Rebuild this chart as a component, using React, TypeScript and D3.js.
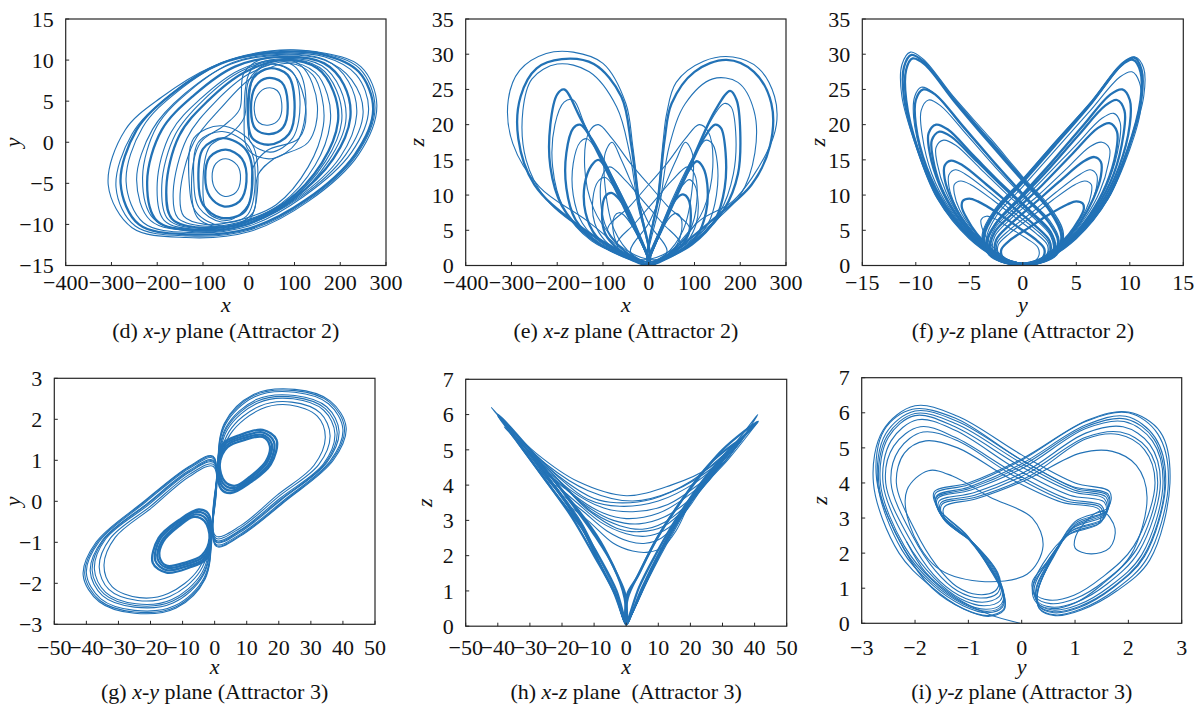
import * as d3 from "d3";

type Pt = [number, number];

const BLUE = "#2272b6";
const AXIS = "#262626";
const INK = "#111111";
const FONT = "'Liberation Serif', 'Times New Roman', serif";

// ---- tick values ----
const dXTicks = [-400, -300, -200, -100, 0, 100, 200, 300];
const dYTicks = [-15, -10, -5, 0, 5, 10, 15];
const eYTicks = [0, 5, 10, 15, 20, 25, 30, 35];
const fXTicks = [-15, -10, -5, 0, 5, 10, 15];
const gXTicks = [-50, -40, -30, -20, -10, 0, 10, 20, 30, 40, 50];
const gYTicks = [-3, -2, -1, 0, 1, 2, 3];
const hYTicks = [0, 1, 2, 3, 4, 5, 6, 7];
const iXTicks = [-3, -2, -1, 0, 1, 2, 3];

// ---- (d) x-y plane, attractor 2 : loops ----
const dThinLoops: Pt[][] = [
  [[-307, -5.2], [-270, 1.5], [-190, 5.5], [-80, 9.2], [40, 11], [150, 11], [245, 9.2], [280, 4.5], [240, -1.5], [130, -7.2], [0, -10.9], [-136, -11.6], [-255, -10.4]],
  [[-290, -5.5], [-255, 1], [-180, 5.4], [-70, 9.4], [45, 11.1], [155, 10.9], [242, 9], [276, 4.2], [236, -1.5], [128, -7.1], [0, -10.7], [-133, -11.4], [-248, -10.2]],
  [[-268, -4.8], [-232, 1.8], [-155, 6.2], [-50, 9.8], [60, 10.8], [165, 10.4], [235, 8.2], [262, 4], [225, -1.2], [120, -6.6], [0, -10.2], [-125, -11], [-230, -9.8]],
  [[-245, -4.6], [-210, 1.6], [-140, 5.9], [-40, 9.5], [70, 10.6], [165, 10], [225, 7.6], [250, 3.6], [212, -1.5], [110, -6.8], [-5, -10], [-120, -10.8], [-215, -9.5]],
  [[-232, -4.3], [-200, 2], [-130, 6.2], [-35, 9.7], [72, 10.7], [168, 10], [218, 7.4], [236, 3.4], [200, -1.8], [103, -6.9], [-8, -10.1], [-118, -10.9], [-208, -9.3]],
  [[-200, -5], [-170, 1.2], [-105, 5.3], [-20, 8.8], [80, 10.2], [160, 9.3], [200, 6.5], [212, 2.5], [175, -2.2], [90, -7.3], [-15, -10], [-110, -10.6], [-185, -9.5]],
  [[-190, -5.2], [-160, 1], [-98, 5.2], [-15, 8.7], [82, 10.1], [155, 9.1], [192, 6.3], [203, 2.5], [168, -2.3], [85, -7.3], [-18, -9.9], [-108, -10.5], [-176, -9.4]],
  [[-165, -6], [-135, 0.5], [-75, 4.8], [0, 8.3], [85, 9.8], [145, 8.5], [172, 5.8], [178, 2.3], [145, -2.8], [70, -7.5], [-25, -9.8], [-100, -10.2], [-155, -9.2]],
  [[-150, -6.3], [-120, 0], [-60, 4.2], [10, 8], [90, 9.6], [140, 8.2], [160, 5.5], [163, 2], [130, -3], [60, -7.6], [-30, -9.6], [-95, -10], [-142, -9]],
  [[12, 4], [20, 5.8], [40, 6.6], [62, 6.3], [72, 4.8], [66, 2.8], [45, 2.1], [22, 2.4]],
  [[-10, 3], [5, 8.8], [50, 10], [105, 9], [125, 5], [105, 0], [50, -2], [0, -1]],
  [[0, 2.5], [12, 8.2], [48, 9.5], [95, 8.6], [112, 5], [96, 0.5], [48, -1.2], [4, 0]],
  [[-80, -4.2], [-72, -2.6], [-50, -2.0], [-25, -2.8], [-18, -4.5], [-28, -6.1], [-52, -6.6], [-72, -5.8]],
  [[-130, -5], [-120, 0.5], [-60, 2], [5, 0], [20, -5], [0, -9.5], [-60, -10.2], [-115, -8.5]],
  [[-120, -4.8], [-110, 0], [-58, 1.3], [0, -0.5], [14, -5], [-5, -9], [-60, -9.7], [-108, -8]],
  [[-100, -5], [-85, -0.5], [-40, 1], [-10, 3], [0, 7.5], [40, 9.5], [95, 8.5], [125, 4], [110, 0.5], [40, -1], [10, -3], [0, -7.5], [-45, -9.5], [-90, -8.5]],
  [[-125, -5], [-105, 0], [-55, 2], [-20, 4], [-10, 8.5], [40, 10.3], [115, 9.3], [150, 4.5], [130, 0], [55, -2], [20, -4], [10, -8.5], [-45, -10.3], [-110, -9.3]],
];
const dBandLoops: Pt[][] = [
  [[-280, -5], [-245, 1.5], [-170, 5.8], [-60, 9.6], [50, 10.9], [160, 10.7], [240, 8.6], [272, 4], [232, -1.5], [125, -7], [0, -10.5], [-130, -11.2], [-240, -10]],
  [[-222, -4.8], [-190, 1.5], [-120, 5.7], [-30, 9.2], [75, 10.4], [165, 9.6], [208, 7], [222, 3], [185, -2], [95, -7], [-10, -10.1], [-115, -10.7], [-200, -9.6]],
  [[-180, -5.5], [-152, 0.8], [-90, 5], [-10, 8.5], [80, 10], [150, 9], [185, 6.2], [195, 2.5], [160, -2.5], [80, -7.3], [-20, -9.9], [-105, -10.4], [-168, -9.3]],
  [[5, 4], [15, 6.8], [40, 7.8], [72, 7.3], [85, 4.8], [75, 1.8], [45, 1.0], [15, 1.6]],
  [[-2, 3.5], [10, 7.8], [45, 9], [85, 8.2], [100, 5], [88, 1], [45, -0.3], [8, 0.5]],
  [[-95, -4.3], [-85, -1.8], [-50, -0.9], [-15, -2.0], [-5, -4.8], [-20, -7.2], [-55, -7.8], [-85, -6.6]],
  [[-110, -4.5], [-100, -0.8], [-55, 0.5], [-5, -1], [8, -5], [-10, -8.5], [-60, -9.2], [-100, -7.6]],
];

// ---- (e) x-z plane, attractor 2 ----
const eThinLoops: Pt[][] = [
  [[0, 0.2], [-20, 9], [-35, 17], [-50, 23], [-100, 28.7], [-165, 30.3], [-224, 30.1], [-282, 27.7], [-307, 23.5], [-297, 17.3], [-238, 11.1], [-136, 6.4], [-40, 1.5]],
  [[0, 0.2], [-25, 9], [-42, 16], [-70, 22.5], [-130, 27.5], [-200, 28.6], [-255, 26.5], [-275, 22], [-268, 15], [-225, 9.5], [-130, 4.5], [-40, 1.2]],
  [[0, 0.2], [-45, 7], [-95, 14], [-140, 20], [-165, 23.5], [-185, 23.2], [-205, 20], [-210, 14], [-185, 8], [-125, 3.5], [-40, 1]],
  [[0, 0.2], [-30, 6], [-75, 12], [-115, 16.5], [-135, 18], [-150, 17.5], [-165, 14.5], [-165, 10], [-145, 6], [-95, 2.8], [-30, 0.8]],
  [[0, 0.2], [-25, 4.5], [-55, 8.5], [-80, 11.5], [-95, 12.5], [-110, 12], [-122, 9.5], [-118, 6], [-95, 3.5], [-55, 1.6], [-20, 0.5]],
  [[0, 0.2], [-15, 3], [-35, 5.5], [-55, 7.2], [-65, 7.5], [-75, 7], [-78, 5], [-68, 3], [-45, 1.6], [-20, 0.6]],
  [[0, 0.2], [20, 10], [32, 18], [39, 21.5], [60, 26], [120, 29], [184, 29.6], [240, 28], [275, 24], [279, 20], [257, 15.9], [185, 9.2], [112, 6.4], [40, 1.5]],
  [[0, 0.2], [25, 9], [45, 17], [80, 23], [140, 26.5], [195, 26], [230, 22], [232, 16], [200, 10], [120, 5], [40, 1.3]],
  [[0, 0.2], [40, 7], [90, 14], [135, 20.5], [165, 23], [180, 22.5], [190, 19], [185, 13], [155, 7.5], [100, 3.5], [35, 1]],
  [[0, 0.2], [30, 6], [70, 12], [105, 16.2], [125, 17.8], [140, 17.2], [150, 14.5], [148, 10], [130, 6], [85, 2.8], [28, 0.8]],
  [[0, 0.2], [25, 4.5], [50, 8.5], [72, 11.2], [88, 12.2], [100, 11.5], [108, 9], [104, 6], [85, 3.5], [50, 1.6], [18, 0.5]],
  [[0, 0.2], [15, 3], [32, 5.5], [50, 7.1], [60, 7.4], [70, 6.8], [72, 5], [62, 3], [42, 1.6], [18, 0.6]],
  // strands that cross the middle
  [[90, 5], [40, 8.5], [0, 11.5], [-40, 14.5], [-80, 18], [-110, 20], [-130, 19], [-140, 14], [-120, 8], [-80, 4], [-30, 1], [30, 1.5]],
  [[70, 3], [30, 6], [-10, 9], [-50, 12], [-85, 14], [-100, 13], [-105, 9], [-90, 5], [-50, 2], [0, 0.5], [40, 1.2]],
  [[-90, 5], [-40, 8.5], [0, 11.5], [40, 14.5], [80, 18], [110, 20], [130, 19], [140, 14], [120, 8], [80, 4], [30, 1], [-30, 1.5]],
  [[-70, 3], [-30, 6], [10, 9], [50, 12], [85, 14], [100, 13], [105, 9], [90, 5], [50, 2], [0, 0.5], [-40, 1.2]],
  [[40, 2], [0, 6], [-30, 10.5], [-60, 15], [-80, 17.5], [-95, 16], [-95, 11], [-75, 5], [-35, 1.5], [10, 0.5]],
  [[-40, 2], [0, 6], [30, 10.5], [60, 15], [80, 17.5], [95, 16], [95, 11], [75, 5], [35, 1.5], [-10, 0.5]],
];
const eBandLoops: Pt[][] = [
  [[0, 0.2], [-22, 9], [-38, 17], [-60, 24], [-120, 28.6], [-190, 29.3], [-245, 28], [-280, 24], [-285, 18], [-250, 11.5], [-160, 6], [-50, 1.6]],
  [[0, 0.2], [-45, 7], [-100, 14.5], [-150, 21], [-185, 25], [-200, 24.3], [-215, 20], [-215, 14], [-190, 8.5], [-130, 4], [-45, 1]],
  [[0, 0.2], [-35, 6], [-80, 12.5], [-125, 18], [-150, 20], [-165, 19.5], [-180, 16], [-180, 11], [-160, 6.5], [-105, 3], [-35, 0.8]],
  [[0, 0.2], [-30, 5.5], [-65, 10.5], [-95, 14], [-110, 15], [-125, 14.2], [-140, 11.5], [-138, 7.5], [-115, 4.2], [-70, 2], [-25, 0.6]],
  [[0, 0.2], [-20, 4], [-45, 7.5], [-70, 9.8], [-82, 10.3], [-95, 9.8], [-102, 7.5], [-95, 4.5], [-70, 2.5], [-40, 1.2], [-15, 0.4]],
  [[0, 0.2], [22, 10], [35, 18], [50, 23], [100, 27.5], [170, 29.2], [230, 27.5], [268, 23], [265, 17], [225, 11.5], [140, 6.5], [45, 1.6]],
  [[0, 0.2], [40, 7], [95, 15], [145, 22], [178, 24.8], [192, 23.5], [200, 19], [195, 13], [165, 8], [110, 4], [40, 1]],
  [[0, 0.2], [35, 6], [80, 12.5], [120, 18], [145, 20], [158, 19.5], [168, 16], [166, 11], [145, 6.5], [95, 3], [30, 0.8]],
  [[0, 0.2], [30, 5.5], [60, 10], [88, 13.5], [105, 14.8], [118, 14], [128, 11.5], [125, 7.5], [105, 4.2], [65, 2], [22, 0.6]],
  [[0, 0.2], [20, 4], [42, 7.5], [62, 9.6], [75, 10.1], [86, 9.5], [92, 7.2], [86, 4.3], [65, 2.4], [38, 1.1], [14, 0.4]],
];

// ---- (f) y-z plane, attractor 2 ----
const fThinLoops: Pt[][] = [
  [[0.8, 0.1], [-2, 0.8], [-5, 3.8], [-8, 9.5], [-10, 17], [-11.3, 24], [-11.3, 28.5], [-10.5, 30.3], [-9.3, 29.3], [-6.5, 24], [-3, 18], [0, 12.6], [2.6, 8.2], [3.8, 4.5], [3.2, 1.6]],
  [[0.6, 0.2], [-2, 1], [-4.5, 3.8], [-6.8, 8], [-8.5, 13], [-9.4, 18.5], [-9.5, 22], [-8.8, 23.5], [-7.7, 22.7], [-5.2, 18.5], [-2.3, 13.5], [0.4, 9.2], [2.6, 5.8], [3.4, 3], [2.5, 1]],
  [[0.6, 0.2], [-2, 1], [-4.7, 3.9], [-7.5, 9], [-9.3, 15], [-10.2, 21], [-10.1, 24], [-9.5, 25.3], [-8.4, 24.6], [-5.8, 20], [-2.8, 14.8], [0.1, 10], [2.5, 6.4], [3.4, 3.5], [2.7, 1.2]],
  [[0.5, 0.2], [-1.8, 0.9], [-3.9, 3.2], [-5.8, 6.7], [-7.2, 10.5], [-8, 14.5], [-8.1, 16.8], [-7.4, 17.8], [-6.3, 17.1], [-4, 13.8], [-1.4, 10], [1, 6.8], [2.6, 4.2], [2.8, 2.1], [1.8, 0.6]],
  [[0.4, 0.2], [-1.6, 0.9], [-3.3, 2.8], [-4.8, 5.3], [-5.9, 7.9], [-6.4, 10.2], [-6.4, 11.5], [-5.8, 12], [-4.9, 11.5], [-2.8, 9.3], [-0.7, 6.8], [1.2, 4.6], [2.3, 2.9], [2.2, 1.4], [1.3, 0.5]],
  [[0.4, 0.2], [-1.7, 0.9], [-3.5, 2.9], [-5.1, 5.6], [-6.3, 8.5], [-6.9, 11.2], [-6.9, 12.9], [-6.3, 13.6], [-5.4, 13], [-3.1, 10.4], [-0.9, 7.6], [1.2, 5.1], [2.4, 3.2], [2.3, 1.6], [1.4, 0.5]],
  [[0.3, 0.2], [-1.2, 0.7], [-2.4, 2], [-3.3, 3.7], [-3.8, 5.3], [-3.9, 6.5], [-3.4, 7], [-2.7, 6.7], [-1.2, 5.3], [0.4, 3.8], [1.4, 2.6], [1.5, 1.4], [0.9, 0.4]],
  [[-0.8, 0.1], [2, 0.8], [5, 3.8], [8, 9.5], [10, 17], [11.3, 24], [11.3, 28], [10.5, 29.6], [9.3, 28.8], [6.5, 23.5], [3, 17.5], [0, 12.3], [-2.6, 8], [-3.8, 4.4], [-3.2, 1.6]],
  [[-0.6, 0.2], [2, 1], [5, 4], [8, 9.6], [10, 16.5], [11, 22], [10.9, 26], [10.2, 27.5], [9.1, 26.8], [6.2, 21.8], [2.8, 16], [0, 11.2], [-2.4, 7.2], [-3.4, 3.8], [-2.8, 1.3]],
  [[-0.6, 0.2], [1.9, 1], [4.3, 3.6], [6.5, 7.6], [8.1, 12.3], [9, 17.3], [9.1, 20.3], [8.5, 21.6], [7.4, 20.9], [4.9, 17], [2, 12.4], [-0.6, 8.4], [-2.6, 5.3], [-3.1, 2.7], [-2.2, 0.8]],
  [[-0.5, 0.2], [1.8, 0.9], [3.9, 3.2], [5.8, 6.7], [7.2, 10.5], [8, 14.5], [8.1, 16.6], [7.4, 17.5], [6.3, 16.9], [4, 13.6], [1.4, 9.9], [-1, 6.8], [-2.6, 4.2], [-2.8, 2.1], [-1.8, 0.6]],
  [[-0.4, 0.2], [1.6, 0.9], [3.3, 2.8], [4.8, 5.3], [5.9, 7.9], [6.4, 10.2], [6.4, 11.5], [5.8, 12], [4.9, 11.5], [2.8, 9.3], [0.7, 6.8], [-1.2, 4.6], [-2.3, 2.9], [-2.2, 1.4], [-1.3, 0.5]],
  [[-0.4, 0.2], [1.7, 0.9], [3.5, 2.9], [5.1, 5.6], [6.3, 8.5], [6.9, 11.2], [6.9, 12.9], [6.3, 13.6], [5.4, 13], [3.1, 10.4], [0.9, 7.6], [-1.2, 5.1], [-2.4, 3.2], [-2.3, 1.6], [-1.4, 0.5]],
];
const fBandLoops: Pt[][] = [
  [[0.7, 0.2], [-2, 1], [-4.8, 4], [-7.8, 9.5], [-9.8, 16.5], [-10.9, 23.5], [-10.9, 27.8], [-10.3, 29.4], [-9.2, 28.6], [-6.4, 23.3], [-3, 17.2], [0, 12], [2.5, 7.8], [3.6, 4.2], [3, 1.5]],
  [[0.7, 0.15], [-2, 0.9], [-4.9, 3.9], [-7.9, 9.5], [-9.9, 16.8], [-11.1, 23.8], [-11.1, 28.2], [-10.4, 29.9], [-9.3, 29], [-6.5, 23.7], [-3, 17.6], [0, 12.3], [2.5, 8], [3.7, 4.3], [3.1, 1.5]],
  [[0.6, 0.2], [-2, 1], [-4.6, 3.8], [-7.2, 8.5], [-9, 14], [-10, 20], [-10, 23.5], [-9.3, 25], [-8.2, 24.3], [-5.6, 19.8], [-2.6, 14.5], [0.2, 9.8], [2.4, 6.2], [3.3, 3.4], [2.6, 1.2]],
  [[0.5, 0.2], [-2, 1], [-4.2, 3.5], [-6.3, 7.3], [-7.8, 11.5], [-8.7, 16], [-8.8, 18.8], [-8.1, 20], [-7, 19.3], [-4.6, 15.6], [-1.8, 11.3], [0.8, 7.6], [2.6, 4.8], [3, 2.4], [2, 0.7]],
  [[0.5, 0.2], [-1.9, 1], [-4.1, 3.4], [-6.1, 7], [-7.6, 11], [-8.4, 15.2], [-8.5, 17.8], [-7.8, 19], [-6.7, 18.3], [-4.3, 14.8], [-1.6, 10.8], [0.9, 7.3], [2.6, 4.6], [2.9, 2.3], [1.9, 0.65]],
  [[0.4, 0.2], [-1.7, 0.9], [-3.6, 3], [-5.4, 6], [-6.6, 9.2], [-7.3, 12.3], [-7.3, 14.2], [-6.7, 14.9], [-5.7, 14.3], [-3.4, 11.5], [-1, 8.4], [1.2, 5.6], [2.5, 3.5], [2.5, 1.7], [1.5, 0.5]],
  [[0.3, 0.2], [-1.5, 0.8], [-3, 2.4], [-4.3, 4.5], [-5.2, 6.6], [-5.7, 8.3], [-5.6, 9.2], [-5, 9.5], [-4.2, 9.1], [-2.3, 7.4], [-0.4, 5.4], [1.2, 3.7], [2, 2.4], [1.9, 1.2], [1.1, 0.4]],
  [[-0.7, 0.2], [2, 1], [4.8, 4], [7.8, 9.5], [9.8, 16.5], [11, 23.5], [11, 27.5], [10.3, 29.2], [9.2, 28.4], [6.4, 23], [3, 17], [0, 11.8], [-2.5, 7.6], [-3.6, 4.1], [-3, 1.5]],
  [[-0.7, 0.15], [2, 0.9], [4.9, 3.9], [7.9, 9.5], [9.9, 16.8], [11.1, 23.8], [11.1, 27.8], [10.4, 29.5], [9.3, 28.6], [6.5, 23.3], [3, 17.4], [0, 12.1], [-2.5, 7.9], [-3.7, 4.3], [-3.1, 1.5]],
  [[-0.6, 0.2], [2, 1], [4.6, 3.8], [7.2, 8.5], [9, 14], [10, 20], [10, 23.5], [9.3, 25], [8.2, 24.3], [5.6, 19.8], [2.6, 14.5], [-0.2, 9.8], [-2.4, 6.2], [-3.3, 3.4], [-2.6, 1.2]],
  [[-0.6, 0.2], [2, 1], [4.5, 3.8], [6.8, 8], [8.5, 13], [9.4, 18.5], [9.5, 22], [8.8, 23.5], [7.7, 22.7], [5.2, 18.5], [2.3, 13.5], [-0.4, 9.2], [-2.6, 5.8], [-3.4, 3], [-2.5, 1]],
  [[-0.5, 0.2], [2, 1], [4.2, 3.5], [6.3, 7.3], [7.8, 11.5], [8.7, 16], [8.8, 19], [8.1, 20.2], [7, 19.5], [4.6, 15.8], [1.8, 11.4], [-0.8, 7.6], [-2.6, 4.8], [-3, 2.4], [-2, 0.7]],
  [[-0.4, 0.2], [1.7, 0.9], [3.6, 3], [5.4, 6.2], [6.6, 9.5], [7.3, 12.7], [7.3, 14.7], [6.7, 15.4], [5.7, 14.8], [3.4, 11.9], [1, 8.7], [-1.2, 5.8], [-2.5, 3.6], [-2.5, 1.7], [-1.5, 0.5]],
  [[-0.3, 0.2], [1.5, 0.8], [3, 2.4], [4.3, 4.4], [5.2, 6.4], [5.7, 8], [5.6, 8.8], [5, 9.1], [4.2, 8.7], [2.3, 7.1], [0.4, 5.2], [-1.2, 3.6], [-2, 2.3], [-1.9, 1.2], [-1.1, 0.4]],
];

// ---- (g) x-y plane, attractor 3 ----
const gThinLoops: Pt[][] = [
  [[0.5, -1.1], [0.8, 0.6], [3, 1.9], [12, 2.6], [25, 2.73], [36, 2.45], [41, 1.8], [37, 1.0], [22, 0], [8, -0.85]],
  [[0.5, -1.08], [0.8, 0.6], [3.1, 1.88], [12.2, 2.58], [25, 2.7], [35.8, 2.42], [40.5, 1.78], [36.5, 0.99], [21.8, 0.01], [8, -0.83]],
  [[0.5, -1.05], [0.8, 0.6], [3.2, 1.85], [12.5, 2.55], [25, 2.66], [35.5, 2.38], [40, 1.75], [36, 0.98], [21.5, 0.02], [8, -0.8]],
  [[0.5, -1.0], [0.8, 0.6], [3.5, 1.8], [13, 2.48], [25, 2.58], [35, 2.3], [38.8, 1.7], [35, 0.95], [21, 0.05], [8, -0.75]],
  [[0.45, -0.98], [0.8, 0.6], [3.7, 1.78], [13.2, 2.44], [24.8, 2.54], [34.5, 2.26], [38.2, 1.68], [34.5, 0.93], [20.8, 0.06], [8, -0.72]],
  [[0.4, -0.95], [0.8, 0.6], [4, 1.75], [13.5, 2.4], [24.5, 2.5], [34, 2.22], [37.5, 1.65], [34, 0.92], [20.5, 0.08], [8, -0.7]],
  [[0.4, -0.9], [0.8, 0.6], [4.5, 1.7], [14, 2.32], [24, 2.42], [33, 2.15], [36, 1.6], [32.5, 0.9], [20, 0.12], [8, -0.65]],
  [[0.4, -0.85], [0.8, 0.6], [5, 1.65], [14.5, 2.25], [23.5, 2.35], [32, 2.08], [34.5, 1.55], [31, 0.88], [19.5, 0.15], [8, -0.6]],
  [[-0.5, 1.1], [-0.8, -0.6], [-3, -1.9], [-12, -2.6], [-25, -2.73], [-36, -2.45], [-41, -1.8], [-37, -1.0], [-22, 0], [-8, 0.85]],
  [[-0.5, 1.08], [-0.8, -0.6], [-3.1, -1.88], [-12.2, -2.58], [-25, -2.7], [-35.8, -2.42], [-40.5, -1.78], [-36.5, -0.99], [-21.8, -0.01], [-8, 0.83]],
  [[-0.5, 1.05], [-0.8, -0.6], [-3.2, -1.85], [-12.5, -2.55], [-25, -2.66], [-35.5, -2.38], [-40, -1.75], [-36, -0.98], [-21.5, -0.02], [-8, 0.8]],
  [[-0.5, 1.0], [-0.8, -0.6], [-3.5, -1.8], [-13, -2.48], [-25, -2.58], [-35, -2.3], [-38.8, -1.7], [-35, -0.95], [-21, -0.05], [-8, 0.75]],
  [[-0.45, 0.98], [-0.8, -0.6], [-3.7, -1.78], [-13.2, -2.44], [-24.8, -2.54], [-34.5, -2.26], [-38.2, -1.68], [-34.5, -0.93], [-20.8, -0.06], [-8, 0.72]],
  [[-0.4, 0.95], [-0.8, -0.6], [-4, -1.75], [-13.5, -2.4], [-24.5, -2.5], [-34, -2.22], [-37.5, -1.65], [-34, -0.92], [-20.5, -0.08], [-8, 0.7]],
  [[-0.4, 0.9], [-0.8, -0.6], [-4.5, -1.7], [-14, -2.32], [-24, -2.42], [-33, -2.15], [-36, -1.6], [-32.5, -0.9], [-20, -0.12], [-8, 0.65]],
  [[-0.4, 0.85], [-0.8, -0.6], [-5, -1.65], [-14.5, -2.25], [-23.5, -2.35], [-32, -2.08], [-34.5, -1.55], [-31, -0.88], [-19.5, -0.15], [-8, 0.6]],
];
const gBandLoops: Pt[][] = [
  [[1, 0.9], [2.5, 1.4], [8, 1.62], [15, 1.74], [19.3, 1.5], [17.5, 0.9], [11, 0.45], [5, 0.2], [2, 0.3]],
  [[1.2, 0.9], [3, 1.38], [8.5, 1.58], [15, 1.68], [18.5, 1.45], [17, 0.92], [11, 0.5], [5.5, 0.26], [2.4, 0.36]],
  [[1.4, 0.9], [3.5, 1.35], [9, 1.54], [15, 1.62], [17.8, 1.4], [16.4, 0.95], [11, 0.55], [6, 0.32], [2.8, 0.42]],
  [[1.6, 0.9], [4, 1.32], [9.5, 1.5], [15, 1.57], [17.2, 1.35], [16, 0.98], [11, 0.6], [6.5, 0.38], [3.2, 0.48]],
  [[-1, -0.9], [-2.5, -1.4], [-8, -1.62], [-15, -1.74], [-19.3, -1.5], [-17.5, -0.9], [-11, -0.45], [-5, -0.2], [-2, -0.3]],
  [[-1.2, -0.9], [-3, -1.38], [-8.5, -1.58], [-15, -1.68], [-18.5, -1.45], [-17, -0.92], [-11, -0.5], [-5.5, -0.26], [-2.4, -0.36]],
  [[-1.4, -0.9], [-3.5, -1.35], [-9, -1.54], [-15, -1.62], [-17.8, -1.4], [-16.4, -0.95], [-11, -0.55], [-6, -0.32], [-2.8, -0.42]],
  [[-1.6, -0.9], [-4, -1.32], [-9.5, -1.5], [-15, -1.57], [-17.2, -1.35], [-16, -0.98], [-11, -0.6], [-6.5, -0.38], [-3.2, -0.48]],
];

// ---- (h) x-z plane, attractor 3 ----
const hThinLoops: Pt[][] = [
  [[0, 0.05], [-3, 0.8], [-8, 1.7], [-15, 3.0], [-21, 3.8], [-30, 4.9], [-42, 6.2], [-36, 5.6], [-28, 4.9], [-15, 4.1], [0, 3.7], [14, 4.0], [26, 4.5], [34, 5.2], [41, 6], [32, 4.8], [22, 3.8], [14, 2.6], [7, 1.4], [2, 0.4]],
  [[0, 0.05], [-3.2, 0.85], [-8.5, 1.8], [-15, 3.05], [-22, 3.9], [-31, 5.0], [-40, 5.95], [-34, 5.4], [-25, 4.6], [-12, 3.85], [2, 3.55], [15, 3.85], [27, 4.5], [35, 5.2], [41, 5.8], [32, 4.75], [22, 3.75], [14, 2.55], [7, 1.35], [2, 0.38]],
  [[0, 0.05], [-3.1, 0.85], [-8.2, 1.78], [-14.5, 2.95], [-21, 3.82], [-29, 4.8], [-38, 5.65], [-31, 5.1], [-21, 4.25], [-10, 3.62], [-3, 3.5], [8, 3.6], [20, 4.1], [29, 4.75], [37, 5.45], [29, 4.65], [20.5, 3.6], [13, 2.5], [6.3, 1.3], [1.7, 0.34]],
  [[0, 0.05], [-3, 0.9], [-8, 1.85], [-14, 2.95], [-21, 3.85], [-29, 4.75], [-36, 5.45], [-30, 5.0], [-22, 4.3], [-12, 3.6], [-2, 3.4], [10, 3.55], [22, 4.1], [31, 4.8], [38, 5.5], [30, 4.6], [21, 3.65], [13, 2.5], [6.5, 1.3], [1.8, 0.35]],
  [[0, 0.05], [-3.3, 0.85], [-8.5, 1.8], [-15, 3.0], [-21, 3.8], [-27, 4.5], [-33, 5.15], [-27, 4.7], [-18, 3.9], [-7, 3.35], [3, 3.25], [13, 3.45], [23, 4.05], [30, 4.6], [35, 5.2], [28, 4.45], [20, 3.55], [12.5, 2.45], [6, 1.25], [1.6, 0.32]],
  [[0, 0.05], [-3.5, 0.9], [-9, 1.9], [-15.5, 3.05], [-21, 3.8], [-26, 4.35], [-30, 4.85], [-25, 4.5], [-16, 3.7], [-7, 3.2], [0, 3.05], [10, 3.2], [20, 3.75], [27, 4.35], [33, 5.0], [27, 4.35], [19, 3.45], [12, 2.35], [5.8, 1.2], [1.5, 0.3]],
  [[0, 0.05], [-3, 0.8], [-8, 1.75], [-14, 2.85], [-19.5, 3.6], [-24, 4.1], [-28, 4.6], [-22, 4.2], [-13, 3.45], [-4, 3.0], [4, 2.9], [12, 3.1], [20, 3.6], [26, 4.15], [30, 4.7], [25, 4.15], [18, 3.3], [11.5, 2.25], [5.5, 1.12], [1.4, 0.28]],
  [[0, 0.05], [-3, 0.82], [-8, 1.72], [-14, 2.85], [-19, 3.5], [-23, 4.0], [-27, 4.45], [-20, 4.0], [-12, 3.3], [-3, 2.78], [4, 2.68], [12, 2.85], [20, 3.5], [27, 4.3], [32, 4.95], [26, 4.3], [19, 3.4], [12, 2.35], [5.6, 1.15], [1.4, 0.28]],
  [[0, 0.05], [-3.2, 0.85], [-8.5, 1.8], [-14, 2.9], [-19, 3.55], [-22, 3.95], [-25, 4.3], [-19, 3.9], [-10, 3.2], [-2, 2.85], [5, 2.75], [12, 2.95], [19, 3.45], [24, 4.0], [28, 4.5], [23, 3.95], [17, 3.15], [11, 2.15], [5.2, 1.05], [1.3, 0.25]],
  [[0, 0.05], [-3, 0.85], [-8, 1.75], [-13, 2.75], [-17, 3.3], [-20, 3.7], [-22, 4.0], [-16, 3.55], [-8, 2.95], [0, 2.62], [6, 2.55], [12, 2.72], [18, 3.2], [22, 3.7], [25, 4.2], [21, 3.7], [16, 3.0], [10.5, 2.05], [5, 1.0], [1.2, 0.24]],
  [[0, 0.05], [-3.4, 0.9], [-8.5, 1.85], [-13, 2.7], [-16.5, 3.2], [-18.5, 3.45], [-20, 3.7], [-14, 3.3], [-6, 2.7], [1, 2.4], [6, 2.35], [11, 2.5], [16, 2.95], [19.5, 3.4], [22, 3.9], [19, 3.45], [15, 2.85], [10, 1.95], [4.8, 0.95], [1.1, 0.22]],
  [[0, 0.05], [-3, 0.8], [-7.5, 1.65], [-12, 2.5], [-15, 2.95], [-16.8, 3.2], [-18, 3.4], [-12, 3.0], [-4, 2.35], [2, 2.13], [7, 2.1], [11.5, 2.25], [15.5, 2.7], [18, 3.15], [20, 3.6], [17.5, 3.2], [14, 2.7], [9.5, 1.9], [4.5, 0.9], [1, 0.2]],
];
const hBandLoops: Pt[][] = [
  [[0, 0.05], [-4, 1.0], [-10, 2.0], [-17, 3.1], [-28, 4.5], [-40, 6.0], [-30, 5.0], [-18, 3.6], [-10, 2.6], [-4, 1.7], [-0.5, 0.8]],
  [[0, 0.1], [-3, 1.0], [-8, 1.9], [-14, 2.8], [-24, 4.0], [-35, 5.4], [-26, 4.5], [-15, 3.3], [-8, 2.4], [-3, 1.5], [-0.3, 0.9]],
  [[0, 0.05], [5, 1.1], [11, 2.2], [19, 3.5], [28, 4.6], [41, 5.8], [30, 5.0], [20, 3.9], [11, 2.7], [4, 1.5], [0.5, 0.8]],
  [[0, 0.1], [4, 1.1], [9, 2.0], [16, 3.1], [25, 4.2], [36, 5.3], [26, 4.6], [16, 3.4], [9, 2.4], [3.5, 1.4], [0.3, 0.9]],
];

// ---- (i) y-z plane, attractor 3 : right lobe -> left wing -> left lobe -> right wing ----
const iThinLoops: Pt[][] = [
  [[0.32, 0.45], [0.62, 0.24], [1.1, 0.4], [1.75, 0.95], [2.35, 1.85], [2.75, 4.0], [2.55, 5.4], [2.0, 6.0], [1.2, 5.75], [0.0, 4.65], [-1.0, 3.95], [-1.62, 3.7], [-1.55, 3.25], [-1.0, 2.45], [-0.55, 1.5], [-0.32, 0.75], [-0.34, 0.4], [-0.62, 0.22], [-1.1, 0.42], [-1.7, 1.05], [-2.3, 2.0], [-2.78, 4.0], [-2.6, 5.5], [-2.0, 6.2], [-1.2, 5.9], [0.0, 4.8], [1.0, 4.0], [1.65, 3.75], [1.62, 3.3], [1.0, 2.9], [0.6, 1.95], [0.3, 0.9]],
  [[0.32, 0.5], [0.6, 0.3], [1.08, 0.45], [1.7, 1.0], [2.3, 1.9], [2.7, 4.0], [2.5, 5.3], [1.95, 5.9], [1.2, 5.65], [0.0, 4.55], [-1.0, 3.88], [-1.6, 3.62], [-1.55, 3.18], [-1.0, 2.4], [-0.55, 1.45], [-0.33, 0.8], [-0.36, 0.46], [-0.64, 0.3], [-1.1, 0.5], [-1.68, 1.1], [-2.25, 2.1], [-2.7, 4.0], [-2.55, 5.4], [-2.0, 6.05], [-1.2, 5.75], [0.0, 4.65], [1.0, 3.85], [1.6, 3.65], [1.6, 3.2], [1.0, 2.8], [0.6, 1.9], [0.3, 0.95]],
  [[0.3, 0.58], [0.58, 0.38], [1.05, 0.52], [1.65, 1.05], [2.25, 1.95], [2.65, 4.0], [2.45, 5.2], [1.92, 5.75], [1.2, 5.55], [0.05, 4.45], [-0.95, 3.8], [-1.58, 3.55], [-1.52, 3.1], [-0.98, 2.38], [-0.52, 1.45], [-0.34, 0.9], [-0.38, 0.55], [-0.66, 0.4], [-1.12, 0.6], [-1.66, 1.2], [-2.2, 2.2], [-2.65, 4.0], [-2.5, 5.3], [-2.0, 5.92], [-1.25, 5.6], [-0.05, 4.5], [0.95, 3.75], [1.55, 3.55], [1.58, 3.1], [0.95, 2.7], [0.55, 1.85], [0.27, 1.0]],
  [[0.28, 0.65], [0.56, 0.46], [1.02, 0.6], [1.6, 1.12], [2.2, 2.05], [2.6, 4.0], [2.4, 5.1], [1.9, 5.6], [1.2, 5.42], [0.1, 4.35], [-0.9, 3.72], [-1.55, 3.48], [-1.5, 3.05], [-0.95, 2.35], [-0.5, 1.45], [-0.36, 0.98], [-0.4, 0.65], [-0.7, 0.5], [-1.15, 0.7], [-1.65, 1.3], [-2.15, 2.3], [-2.6, 4.0], [-2.45, 5.2], [-1.95, 5.8], [-1.25, 5.5], [-0.1, 4.4], [0.9, 3.65], [1.55, 3.45], [1.55, 3.0], [0.95, 2.65], [0.5, 1.8], [0.24, 1.05]],
  [[0.26, 0.75], [0.54, 0.56], [1.0, 0.7], [1.55, 1.2], [2.15, 2.1], [2.55, 4.0], [2.35, 5.0], [1.85, 5.45], [1.2, 5.3], [0.12, 4.28], [-0.88, 3.65], [-1.52, 3.42], [-1.48, 3.0], [-0.92, 2.3], [-0.48, 1.45], [-0.38, 1.05], [-0.43, 0.75], [-0.74, 0.6], [-1.18, 0.8], [-1.65, 1.38], [-2.1, 2.4], [-2.55, 4.0], [-2.4, 5.05], [-1.9, 5.6], [-1.25, 5.3], [-0.15, 4.3], [0.85, 3.55], [1.5, 3.35], [1.52, 2.95], [0.9, 2.6], [0.5, 1.75], [0.22, 1.1]],
  [[0.24, 0.85], [0.52, 0.66], [0.98, 0.8], [1.5, 1.3], [2.1, 2.2], [2.5, 4.0], [2.3, 4.95], [1.82, 5.38], [1.2, 5.25], [0.15, 4.2], [-0.85, 3.6], [-1.5, 3.38], [-1.45, 2.95], [-0.9, 2.28], [-0.45, 1.45], [-0.4, 1.12], [-0.46, 0.85], [-0.78, 0.72], [-1.2, 0.92], [-1.62, 1.5], [-2.05, 2.5], [-2.45, 4.0], [-2.3, 4.95], [-1.85, 5.45], [-1.2, 5.2], [-0.2, 4.25], [0.8, 3.5], [1.48, 3.3], [1.5, 2.9], [0.9, 2.55], [0.45, 1.7], [0.2, 1.18]],
  [[0.27, 0.6], [0.56, 0.42], [1.0, 0.58], [1.5, 1.1], [2.05, 1.95], [2.35, 3.6], [2.15, 4.5], [1.7, 4.9], [1.1, 4.85], [0.1, 4.1], [-0.85, 3.55], [-1.45, 3.32], [-1.42, 2.92], [-0.88, 2.25], [-0.45, 1.4], [-0.42, 1.15], [-0.5, 0.92], [-0.82, 0.82], [-1.22, 1.05], [-1.6, 1.65], [-2.0, 2.65], [-2.35, 4.0], [-2.2, 4.85], [-1.8, 5.2], [-1.2, 5.0], [-0.25, 4.15], [0.75, 3.45], [1.45, 3.25], [1.45, 2.85], [0.85, 2.5], [0.4, 1.7], [0.2, 1.0]],
  [[0.33, 0.42], [0.63, 0.22], [1.12, 0.38], [1.78, 0.92], [2.4, 1.8], [2.78, 4.0], [2.6, 5.45], [2.0, 6.02], [1.25, 5.8], [0.02, 4.7], [-1.0, 4.0], [-1.64, 3.75], [-1.58, 3.3], [-1.02, 2.5], [-0.58, 1.5], [-0.32, 0.72], [-0.33, 0.38], [-0.6, 0.2], [-1.08, 0.4], [-1.68, 1.0], [-2.2, 2.1], [-2.72, 4.1], [-2.58, 5.5], [-2.05, 6.1], [-1.25, 5.85], [-0.05, 4.7], [0.95, 3.9], [1.62, 3.68], [1.6, 3.22], [1.0, 2.85], [0.58, 1.9], [0.3, 0.88]],
  [[0.31, 0.52], [0.6, 0.33], [1.08, 0.48], [1.7, 1.02], [2.28, 1.9], [2.68, 3.9], [2.48, 5.25], [1.96, 5.82], [1.2, 5.6], [0.02, 4.5], [-0.98, 3.84], [-1.6, 3.58], [-1.53, 3.14], [-0.99, 2.4], [-0.54, 1.46], [-0.34, 0.85], [-0.37, 0.5], [-0.65, 0.34], [-1.1, 0.55], [-1.67, 1.15], [-2.22, 2.15], [-2.68, 4.0], [-2.52, 5.35], [-2.0, 5.98], [-1.22, 5.68], [-0.02, 4.58], [0.98, 3.8], [1.58, 3.6], [1.59, 3.15], [0.98, 2.75], [0.58, 1.88], [0.28, 0.98]],
  [[-0.8, 1.2], [-1.6, 1.6], [-2.1, 2.8], [-2.15, 3.8], [-1.75, 4.35], [-1.3, 4.2], [-0.6, 3.6], [0.2, 3.0], [0.4, 2.2], [0.1, 1.4]],
  [[1.5, 3.2], [1.75, 2.7], [1.65, 2.15], [1.3, 1.98], [1.0, 2.15], [1.05, 2.6]],
];
const iTail: Pt[] = [[-0.03, 0.0], [-0.6, 0.25], [-1.2, 0.7], [-1.8, 1.45], [-2.16, 2.33]];

type Panel = {
  key: string;
  left: number; right: number; top: number; bottom: number;
  xDomain: [number, number]; yDomain: [number, number];
  xTicks: number[]; yTicks: number[];
  xLabel: string; yLabel: string; yLabelX: number;
  tag: string; planeVars: string; rest: string;
  tickY: number; xLabelY: number; captionY: number;
  thin: Pt[][]; band: Pt[][]; open: Pt[][];
};

const panels: Panel[] = [
  { key: "d", left: 65.7, right: 386, top: 19, bottom: 265.5, xDomain: [-400, 300], yDomain: [-15, 15],
    xTicks: dXTicks, yTicks: dYTicks, xLabel: "x", yLabel: "y", yLabelX: 20,
    tag: "(d) ", planeVars: "x-y", rest: " plane (Attractor 2)", tickY: 290, xLabelY: 312, captionY: 338,
    thin: dThinLoops, band: dBandLoops, open: [] },
  { key: "e", left: 465.7, right: 786, top: 19, bottom: 265.5, xDomain: [-400, 300], yDomain: [0, 35],
    xTicks: dXTicks, yTicks: eYTicks, xLabel: "x", yLabel: "z", yLabelX: 424,
    tag: "(e) ", planeVars: "x-z", rest: " plane (Attractor 2)", tickY: 290, xLabelY: 312, captionY: 338,
    thin: eThinLoops, band: eBandLoops, open: [] },
  { key: "f", left: 862.3, right: 1183.3, top: 19, bottom: 265.5, xDomain: [-15, 15], yDomain: [0, 35],
    xTicks: fXTicks, yTicks: eYTicks, xLabel: "y", yLabel: "z", yLabelX: 825,
    tag: "(f) ", planeVars: "y-z", rest: " plane (Attractor 2)", tickY: 290, xLabelY: 312, captionY: 338,
    thin: fThinLoops, band: fBandLoops, open: [] },
  { key: "g", left: 54.3, right: 375, top: 378.3, bottom: 624.3, xDomain: [-50, 50], yDomain: [-3, 3],
    xTicks: gXTicks, yTicks: gYTicks, xLabel: "x", yLabel: "y", yLabelX: 20,
    tag: "(g) ", planeVars: "x-y", rest: " plane (Attractor 3)", tickY: 655, xLabelY: 674, captionY: 699,
    thin: gThinLoops, band: gBandLoops, open: [] },
  { key: "h", left: 465.7, right: 786.7, top: 379.3, bottom: 626.2, xDomain: [-50, 50], yDomain: [0, 7],
    xTicks: gXTicks, yTicks: hYTicks, xLabel: "x", yLabel: "z", yLabelX: 432,
    tag: "(h) ", planeVars: "x-z", rest: " plane  (Attractor 3)", tickY: 655, xLabelY: 674, captionY: 699,
    thin: hThinLoops, band: hBandLoops, open: [] },
  { key: "i", left: 861.7, right: 1181.7, top: 377.7, bottom: 623.3, xDomain: [-3, 3], yDomain: [0, 7],
    xTicks: iXTicks, yTicks: hYTicks, xLabel: "y", yLabel: "z", yLabelX: 827,
    tag: "(i) ", planeVars: "y-z", rest: " plane (Attractor 3)", tickY: 655, xLabelY: 674, captionY: 699,
    thin: iThinLoops, band: [], open: [iTail] },
];

const fmt = (v: number) => (v < 0 ? "\u2212" + Math.abs(v) : String(v));

function AttractorPanel({ p }: { p: Panel }) {
  const x = d3.scaleLinear().domain(p.xDomain).range([p.left, p.right]);
  const y = d3.scaleLinear().domain(p.yDomain).range([p.bottom, p.top]);
  const closed = d3
    .line<Pt>()
    .x((d) => x(d[0]))
    .y((d) => y(d[1]))
    .curve(d3.curveCatmullRomClosed.alpha(0.5));
  const open = d3
    .line<Pt>()
    .x((d) => x(d[0]))
    .y((d) => y(d[1]))
    .curve(d3.curveCatmullRom.alpha(0.5));
  const cx = (p.left + p.right) / 2;
  const cy = (p.top + p.bottom) / 2;

  return (
    <g>
      {p.thin.map((l, i) => (
        <path key={"t" + i} d={closed(l) || ""} fill="none" stroke={BLUE} strokeWidth={1.1} />
      ))}
      {p.band.map((l, i) => (
        <path key={"b" + i} d={closed(l) || ""} fill="none" stroke={BLUE} strokeWidth={2.3} />
      ))}
      {p.open.map((l, i) => (
        <path key={"o" + i} d={open(l) || ""} fill="none" stroke={BLUE} strokeWidth={1.1} />
      ))}

      {/* frame */}
      <rect x={p.left} y={p.top} width={p.right - p.left} height={p.bottom - p.top}
        fill="none" stroke={AXIS} strokeWidth={1.2} />

      {/* x ticks, pointing inward */}
      {p.xTicks.map((t) => (
        <g key={"xt" + t}>
          <line x1={x(t)} x2={x(t)} y1={p.bottom} y2={p.bottom - 3.5} stroke={AXIS} strokeWidth={1} />
          <text x={x(t)} y={p.tickY} textAnchor="middle" fontSize={22} fill={INK}>{fmt(t)}</text>
        </g>
      ))}
      {/* y ticks, pointing inward */}
      {p.yTicks.map((t) => (
        <g key={"yt" + t}>
          <line x1={p.left} x2={p.left + 3.5} y1={y(t)} y2={y(t)} stroke={AXIS} strokeWidth={1} />
          <text x={p.left - 12} y={y(t)} dy="0.35em" textAnchor="end" fontSize={22} fill={INK}>{fmt(t)}</text>
        </g>
      ))}

      <text x={cx} y={p.xLabelY} textAnchor="middle" fontSize={22} fontStyle="italic" fill={INK}>{p.xLabel}</text>
      <text transform={`translate(${p.yLabelX},${cy}) rotate(-90)`} textAnchor="middle" fontSize={22}
        fontStyle="italic" fill={INK}>{p.yLabel}</text>

      <text x={cx} y={p.captionY} textAnchor="middle" fontSize={22} fill={INK} style={{ whiteSpace: "pre" }}>
        <tspan>{p.tag}</tspan>
        <tspan fontStyle="italic">{p.planeVars}</tspan>
        <tspan>{p.rest}</tspan>
      </text>
    </g>
  );
}

export default function App() {
  return (
    <svg
      width={1200}
      height={710}
      style={{ position: "absolute", left: 0, top: 0, background: "#fff", fontFamily: FONT }}
    >
      <rect width={1200} height={710} fill="#fff" />
      {panels.map((p) => (
        <AttractorPanel key={p.key} p={p} />
      ))}
    </svg>
  );
}
